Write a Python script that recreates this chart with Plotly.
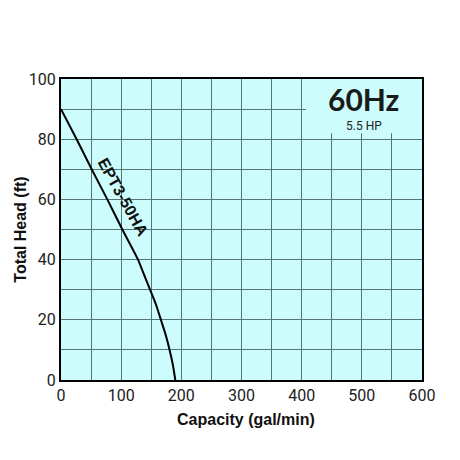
import plotly.graph_objects as go

# pump curve EPT3-50HA, 60Hz
flow = [0, 26, 51, 77, 102, 128, 138, 148, 158, 166, 174, 180.5, 186, 190]
head = [90, 80, 70, 60, 50, 40, 35, 30, 25, 20, 15, 10, 5, 0]

x_ticks = [0, 100, 200, 300, 400, 500, 600]
y_ticks = [0, 20, 40, 60, 80, 100]

bg = "#ccfcfc"
grid = "#557575"

fig = go.Figure()
fig.add_trace(go.Scatter(x=flow, y=head, mode="lines",
                         line=dict(color="black", width=2, shape="spline", smoothing=0.5),
                         showlegend=False, hoverinfo="skip"))

# clear the grid behind the 60Hz label
fig.add_shape(type="rect", x0=407, x1=600, y0=82, y1=100, layer="between",
              fillcolor=bg, line=dict(width=0))

fig.add_annotation(x=103, y=60.5, text="<b>EPT3-50HA</b>", showarrow=False,
                   textangle=61, font=dict(family="Liberation Sans", size=16, color="#111"))
fig.add_annotation(x=502, y=93.5, text="<b>60Hz</b>", showarrow=False,
                   font=dict(family="Lato", size=30, color="#1a1a1a"))
fig.add_annotation(x=504, y=84.5, text="5.5 HP", showarrow=False,
                   font=dict(family="Roboto", size=12, color="#222"))

# axis titles
fig.add_annotation(xref="paper", yref="paper", x=-0.113, y=0.5, text="<b>Total Head (ft)</b>",
                   textangle=-90, showarrow=False, xanchor="center", yanchor="middle",
                   font=dict(family="Liberation Sans", size=16, color="#111"))
fig.add_annotation(xref="paper", yref="paper", x=0.512, y=-0.13, text="<b>Capacity (gal/min)</b>",
                   showarrow=False, xanchor="center", yanchor="middle",
                   font=dict(family="Liberation Sans", size=16, color="#111"))

axis_common = dict(showgrid=True, gridcolor=grid, gridwidth=1, zeroline=False,
                   showline=True, linecolor="black", linewidth=2, mirror=True,
                   ticks="", automargin=False,
                   tickfont=dict(family="Roboto", size=16, color="#222"))

fig.update_xaxes(range=[0, 600], tickvals=x_ticks,
                 minor=dict(dtick=50, showgrid=True, gridcolor=grid, gridwidth=1),
                 **axis_common)
fig.update_yaxes(range=[0, 100], tickvals=y_ticks,
                 minor=dict(dtick=10, showgrid=True, gridcolor=grid, gridwidth=1),
                 **axis_common)

fig.update_layout(width=460, height=460, paper_bgcolor="white", plot_bgcolor=bg,
                  margin=dict(l=53, r=46, t=71, b=88))

fig.write_html("out.html")
